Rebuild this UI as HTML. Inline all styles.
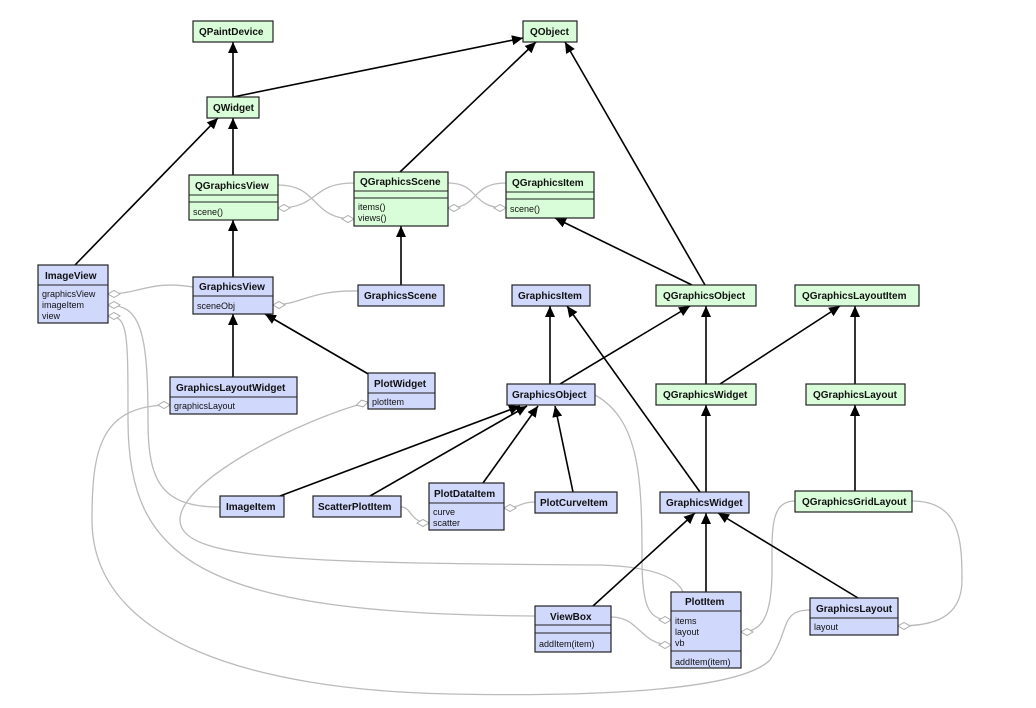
<!DOCTYPE html>
<html><head><meta charset="utf-8"><style>
html,body{margin:0;padding:0;background:#fff;}
svg{display:block;}
text{font-family:"Liberation Sans",sans-serif;fill:#111;}
.t{font-weight:bold;font-size:10px;}
.f{font-size:9px;}
.g{fill:#d9fdd9;stroke:#222;stroke-width:1.2;}
.b{fill:#d0d8fc;stroke:#222;stroke-width:1.2;}
.sh{fill:#888;}
.ln{stroke:#222;stroke-width:1;}
.c{fill:none;stroke:#bbb;stroke-width:1.3;}
.a{stroke:#000;stroke-width:1.6;marker-end:url(#ar);}
</style></head><body>
<svg width="1036" height="708" viewBox="0 0 1036 708" xmlns="http://www.w3.org/2000/svg">
<defs>
<marker id="ar" viewBox="0 0 10 10" refX="10" refY="5" markerWidth="7" markerHeight="7" orient="auto" markerUnits="userSpaceOnUse"><path d="M0,0 L10,5 L0,10 z" fill="#000"/></marker>
<marker id="ar2" viewBox="0 0 12 12" refX="11" refY="6" markerWidth="12" markerHeight="12" orient="auto" markerUnits="userSpaceOnUse"><path d="M0,1 L11,6 L0,11 z" fill="#000"/></marker>
<marker id="dm" viewBox="0 0 14 8" refX="13" refY="4" markerWidth="14" markerHeight="8" orient="auto" markerUnits="userSpaceOnUse"><path d="M1,4 L7,0.5 L13,4 L7,7.5 z" fill="#fff" stroke="#aaa" stroke-width="1"/></marker>
</defs>
<style>.a{marker-end:url(#ar2);}</style>

<!-- grey association curves -->
<g class="c" style="marker-end:url(#dm)">
<path d="M278,185 C320,185 310,219 354,219"/>
<path d="M354,183 C310,183 320,208 278,208"/>
<path d="M448,183 C480,183 470,208 506,208"/>
<path d="M506,183 C470,183 480,208 448,208"/>
<path d="M193,287 C150,280 140,294 108,294"/>
<path d="M358,291 C310,290 300,305 273,305"/>
<path d="M220,507 C160,507 148,480 148,420 C148,330 140,305 108,305"/>
<path d="M535,616 C200,614 128,560 128,420 C128,330 128,316 108,316"/>
<path d="M810,610 C780,610 790,630 770,660 C740,690 600,697 450,694 C250,690 92,640 92,520 C92,450 100,405 170,405"/>
<path d="M683,592 C678,580 660,567 600,565 C300,563 180,560 180,520 C180,480 300,420 368,402"/>
<path d="M401,507 C412,507 410,523 429,523"/>
<path d="M535,502 C520,502 520,508 504,508"/>
<path d="M595,395 C640,420 642,480 642,560 C642,610 650,620 671,620"/>
<path d="M611,617 C640,617 640,645 671,645"/>
<path d="M795,501 C770,501 772,530 772,570 C772,620 760,632 741,632"/>
<path d="M912,501 C960,501 962,540 962,580 C962,620 930,626 898,626"/>
</g>

<!-- inheritance arrows -->
<g class="a" fill="none">
<line x1="233" y1="97" x2="233" y2="42"/>
<line x1="233" y1="97" x2="523" y2="38"/>
<line x1="233" y1="175" x2="233" y2="118"/>
<line x1="75" y1="265" x2="218" y2="118"/>
<line x1="400" y1="172" x2="536" y2="42"/>
<line x1="705" y1="285" x2="565" y2="42"/>
<line x1="692" y1="285" x2="555" y2="218"/>
<line x1="233" y1="277" x2="233" y2="220"/>
<line x1="401" y1="285" x2="401" y2="226"/>
<line x1="233" y1="377" x2="233" y2="314"/>
<line x1="370" y1="375" x2="265" y2="314"/>
<line x1="550" y1="384" x2="550" y2="306"/>
<line x1="560" y1="384" x2="690" y2="306"/>
<line x1="706" y1="384" x2="706" y2="306"/>
<line x1="720" y1="384" x2="840" y2="306"/>
<line x1="855" y1="384" x2="855" y2="306"/>
<line x1="855" y1="491" x2="855" y2="405"/>
<line x1="706" y1="492" x2="706" y2="405"/>
<line x1="700" y1="492" x2="567" y2="306"/>
<line x1="280" y1="496" x2="520" y2="406"/>
<line x1="370" y1="496" x2="527" y2="406"/>
<line x1="483" y1="483" x2="538" y2="406"/>
<line x1="573" y1="492" x2="555" y2="406"/>
<line x1="593" y1="606" x2="695" y2="513"/>
<line x1="706" y1="592" x2="706" y2="513"/>
<line x1="858" y1="598" x2="718" y2="513"/>
</g>

<!-- boxes -->
<g>
<!-- green simple -->
<rect class="g" x="193" y="21" width="80" height="21"/><text class="t" x="199" y="35">QPaintDevice</text>
<rect class="g" x="523" y="21" width="54" height="21"/><text class="t" x="530" y="35">QObject</text>
<rect class="g" x="207" y="97" width="52" height="21"/><text class="t" x="213" y="111">QWidget</text>
<rect class="g" x="656" y="285" width="100" height="21"/><text class="t" x="663" y="299">QGraphicsObject</text>
<rect class="g" x="795" y="285" width="124" height="21"/><text class="t" x="802" y="299">QGraphicsLayoutItem</text>
<rect class="g" x="656" y="384" width="100" height="21"/><text class="t" x="663" y="398">QGraphicsWidget</text>
<rect class="g" x="806" y="384" width="99" height="21"/><text class="t" x="813" y="398">QGraphicsLayout</text>
<rect class="g" x="795" y="491" width="117" height="21"/><text class="t" x="802" y="505">QGraphicsGridLayout</text>

<!-- green compartment -->
<rect class="g" x="189" y="175" width="89" height="45"/><line class="ln" x1="189" y1="195" x2="278" y2="195"/><line class="ln" x1="189" y1="202" x2="278" y2="202"/>
<text class="t" x="195" y="189">QGraphicsView</text><text class="f" x="193" y="215">scene()</text>
<rect class="g" x="354" y="172" width="94" height="54"/><line class="ln" x1="354" y1="191" x2="448" y2="191"/><line class="ln" x1="354" y1="198" x2="448" y2="198"/>
<text class="t" x="360" y="185">QGraphicsScene</text><text class="f" x="358" y="210">items()</text><text class="f" x="358" y="221">views()</text>
<rect class="g" x="506" y="172" width="88" height="46"/><line class="ln" x1="506" y1="192" x2="594" y2="192"/><line class="ln" x1="506" y1="199" x2="594" y2="199"/>
<text class="t" x="512" y="186">QGraphicsItem</text><text class="f" x="510" y="212">scene()</text>

<!-- blue -->
<rect class="b" x="38" y="265" width="70" height="58"/><line class="ln" x1="38" y1="285" x2="108" y2="285"/>
<text class="t" x="45" y="279">ImageView</text><text class="f" x="42" y="297">graphicsView</text><text class="f" x="42" y="308">imageItem</text><text class="f" x="42" y="319">view</text>
<rect class="b" x="193" y="277" width="80" height="37"/><line class="ln" x1="193" y1="296" x2="273" y2="296"/>
<text class="t" x="199" y="290">GraphicsView</text><text class="f" x="197" y="309">sceneObj</text>
<rect class="b" x="358" y="285" width="86" height="21"/><text class="t" x="364" y="299">GraphicsScene</text>
<rect class="b" x="512" y="285" width="78" height="21"/><text class="t" x="518" y="299">GraphicsItem</text>
<rect class="b" x="170" y="377" width="127" height="37"/><line class="ln" x1="170" y1="397" x2="297" y2="397"/>
<text class="t" x="176" y="391">GraphicsLayoutWidget</text><text class="f" x="174" y="409">graphicsLayout</text>
<rect class="b" x="368" y="373" width="67" height="36"/><line class="ln" x1="368" y1="393" x2="435" y2="393"/>
<text class="t" x="374" y="387">PlotWidget</text><text class="f" x="372" y="405">plotItem</text>
<rect class="b" x="507" y="384" width="88" height="21"/><text class="t" x="512" y="398">GraphicsObject</text>
<rect class="b" x="220" y="496" width="64" height="21"/><text class="t" x="226" y="510">ImageItem</text>
<rect class="b" x="313" y="496" width="88" height="21"/><text class="t" x="318" y="510">ScatterPlotItem</text>
<rect class="b" x="429" y="483" width="75" height="47"/><line class="ln" x1="429" y1="503" x2="504" y2="503"/>
<text class="t" x="434" y="497">PlotDataItem</text><text class="f" x="433" y="515">curve</text><text class="f" x="433" y="526">scatter</text>
<rect class="b" x="535" y="492" width="82" height="21"/><text class="t" x="540" y="506">PlotCurveItem</text>
<rect class="b" x="660" y="492" width="89" height="21"/><text class="t" x="666" y="506">GraphicsWidget</text>
<rect class="b" x="535" y="606" width="76" height="46"/><line class="ln" x1="535" y1="625" x2="611" y2="625"/><line class="ln" x1="535" y1="633" x2="611" y2="633"/>
<text class="t" x="550" y="620">ViewBox</text><text class="f" x="539" y="647">addItem(item)</text>
<rect class="b" x="671" y="592" width="70" height="76"/><line class="ln" x1="671" y1="611" x2="741" y2="611"/><line class="ln" x1="671" y1="651" x2="741" y2="651"/>
<text class="t" x="685" y="605">PlotItem</text><text class="f" x="675" y="624">items</text><text class="f" x="675" y="635">layout</text><text class="f" x="675" y="646">vb</text><text class="f" x="675" y="665">addItem(item)</text>
<rect class="b" x="810" y="598" width="88" height="37"/><line class="ln" x1="810" y1="618" x2="898" y2="618"/>
<text class="t" x="816" y="612">GraphicsLayout</text><text class="f" x="814" y="630">layout</text>
</g>
</svg>
</body></html>
